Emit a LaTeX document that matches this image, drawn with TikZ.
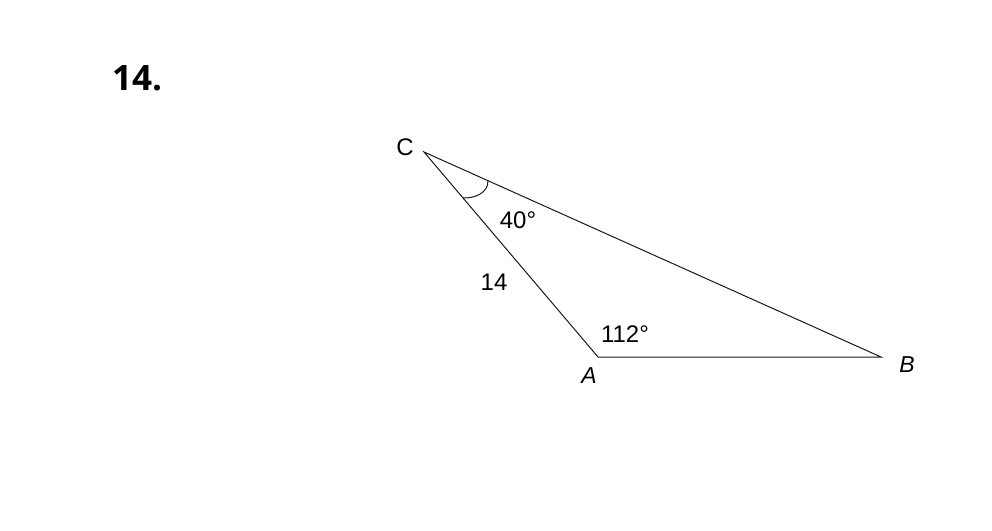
\documentclass[tikz,border=0pt]{standalone}
\usepackage{fontspec}
\setmainfont{Liberation Sans}
\newfontfamily\headfont{Open Sans}
\usepackage{tikz}
\usetikzlibrary{calc}

\begin{document}
\begin{tikzpicture}[x=1pt,y=-1pt,
  side/.style={line width=1pt, color=black!90},
  lbl/.style={font=\fontsize{24}{28}\selectfont, inner sep=1pt},
  vtx/.style={font=\fontsize{23}{27}\selectfont\itshape, inner sep=1pt}]
\useasboundingbox (0,0) rectangle (992,530);

% vertices
\coordinate (C) at (424,152);
\coordinate (A) at (598,357);
\coordinate (B) at (881,357);

% triangle
\draw [side] (C) -- (A) -- (B) -- cycle;

% angle mark at C
\coordinate (mkA) at ($(C)!60pt!(A)$);
\coordinate (mkB) at ($(C)!70pt!(B)$);
\draw [side] (mkA) .. controls (475,199) and (489,192) .. (mkB);

% labels
\node [lbl, fill=white, inner sep=4.5pt] (angC) at (518,220) {40°};
\node [lbl] (sideCA) at (494,282) {14};
\node [lbl] (angA) at (625,334) {112°};
\node [lbl] (labC) at (405,147) {C};
\node [vtx] (labA) at (589,376) {A};
\node [vtx] (labB) at (907,365) {B};

% problem number
\node [font=\headfont\bfseries\fontsize{35}{38}\selectfont, inner sep=0pt] (num) at (137,78) {14.};
\end{tikzpicture}
\end{document}
